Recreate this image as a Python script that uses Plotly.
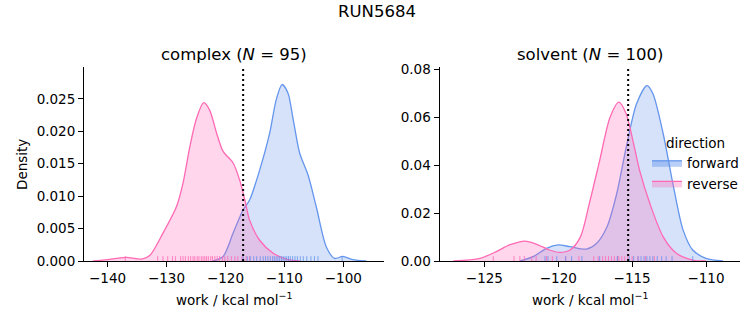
import plotly.graph_objects as go

# ---------------- data ----------------
# complex panel KDE curves
cx_rev_x = [-142.5, -140.0, -138.5, -136.8, -134.2, -132.8, -130.6, -128.3, -127.2, -126.05, -124.9,
            -123.7, -122.7, -121.5, -120.4, -118.7, -117.6, -116.7, -115.9, -114.2, -111.9, -109.7, -107.4]
cx_rev_y = [0.0, 0.0002, 0.0004, 0.00057, 0.0003, 0.0009, 0.0043, 0.0084, 0.0120, 0.0176, 0.0220,
            0.0244, 0.0233, 0.0197, 0.0169, 0.0151, 0.0125, 0.0094, 0.0063, 0.0032, 0.0012, 0.0003, 0.0]
cx_fwd_x = [-122.1, -120.4, -118.7, -117.0, -115.9, -114.2, -112.5, -111.4, -110.4, -109.4, -108.5,
            -107.4, -106.0, -104.6, -102.9, -101.5, -100.1, -98.4, -96.1]
cx_fwd_y = [0.0, 0.0007, 0.0043, 0.0079, 0.0094, 0.0140, 0.0197, 0.0248, 0.0272, 0.0259, 0.0218,
            0.0166, 0.0133, 0.0084, 0.0022, 0.0004, 0.0007, 0.0002, 0.0]

# solvent panel KDE curves
sv_rev_x = [-127.1, -125.3, -124.2, -123.3, -122.25, -121.5, -120.6, -119.9, -119.2, -118.5, -117.9,
            -117.2, -116.5, -115.9, -115.4, -114.9, -114.5, -113.8, -112.9, -112.0, -110.9, -110.0]
sv_rev_y = [0.0, 0.0011, 0.0039, 0.0067, 0.0083, 0.0071, 0.0046, 0.0036, 0.0046, 0.0101, 0.0240,
            0.0420, 0.0600, 0.0664, 0.0615, 0.0490, 0.0380, 0.0240, 0.0101, 0.0032, 0.0004, 0.0]
sv_fwd_x = [-122.6, -121.7, -120.8, -120.0, -119.2, -118.1, -117.4, -116.7, -116.05, -115.4, -114.7,
            -114.0, -113.6, -112.9, -112.2, -111.55, -110.9, -110.0, -108.85]
sv_fwd_y = [0.0, 0.0018, 0.0053, 0.0067, 0.0060, 0.0050, 0.0074, 0.0143, 0.0280, 0.0476, 0.0657,
            0.0733, 0.0700, 0.0532, 0.0310, 0.0129, 0.0046, 0.0011, 0.0]

# individual work values (rug)
cx_rev_work = [-137.0, -131.5, -130.6, -129.8, -129.0, -128.5, -127.6, -127.2, -126.8, -126.3, -125.9,
               -125.5, -125.2, -124.8, -124.5, -124.1, -123.8, -123.5, -123.2, -122.9, -122.5, -122.2,
               -121.8, -121.4, -121.0, -120.5, -120.1, -119.6, -119.0, -118.4, -117.9, -117.2, -116.5, -115.9]
cx_fwd_work = [-117.0, -116.3, -115.8, -115.2, -114.7, -114.1, -113.6, -113.2, -112.8, -112.4, -112.0,
               -111.7, -111.4, -111.1, -110.8, -110.5, -110.2, -109.9, -109.6, -109.3, -109.0, -108.6,
               -108.2, -107.8, -107.3, -106.8, -106.2, -105.5, -104.9, -104.3, -100.2]
sv_rev_work = [-124.4, -123.0, -122.6, -122.3, -121.8, -121.5, -120.8, -120.4, -119.5, -118.6, -117.6,
               -117.3, -117.0, -116.8, -116.6, -116.4, -116.2, -116.0, -115.9, -115.7, -115.5, -115.3,
               -115.0, -114.6, -114.1, -113.5]
sv_fwd_work = [-120.9, -120.7, -120.1, -119.5, -119.1, -118.4, -117.2, -116.0, -115.2, -114.9, -114.6,
               -114.4, -114.2, -114.0, -113.8, -113.6, -113.3, -113.0, -112.7, -112.3, -110.9]

# dotted reference lines (work estimate)
cx_vline = -117.0
sv_vline = -115.27

directions = ["forward", "reverse"]
panel_titles = ["complex (<i>N</i> = 95)", "solvent (<i>N</i> = 100)"]
suptitle = "RUN5684"
xlabel = "work / kcal mol<sup>−1</sup>"
ylabel = "Density"
cx_yticks = [0.0, 0.005, 0.010, 0.015, 0.020, 0.025]
sv_yticks = [0.0, 0.02, 0.04, 0.06, 0.08]
cx_xticks = [-140, -130, -120, -110, -100]
sv_xticks = [-125, -120, -115, -110]

# ---------------- style ----------------
BLUE = "#6495ED"
PINK = "#FF69B4"
BLUE_F = "rgba(100,149,237,0.27)"
PINK_F = "rgba(255,105,180,0.27)"
BLUE_L = "rgba(100,149,237,0.45)"
PINK_L = "rgba(255,105,180,0.35)"
BLUE_R = "rgba(100,149,237,0.8)"
PINK_R = "rgba(255,105,180,0.8)"
FONT = "DejaVu Sans"

W, H = 753, 325
cx_xr = [-144.0, -93.1]
cx_yr = [0, 0.0299]
sv_xr = [-128.04, -107.7]
sv_yr = [0, 0.0811]

fig = go.Figure()


def add_kde(x, y, line, fill, xa, ya):
    fig.add_trace(go.Scatter(x=x, y=y, mode="lines", line=dict(color=line, width=1.3, shape="spline", smoothing=0.8),
                             fill="tozeroy", fillcolor=fill, showlegend=False,
                             xaxis=xa, yaxis=ya, hoverinfo="skip"))


def add_rug(vals, color, h, xa, ya):
    xs, ys = [], []
    for v in vals:
        xs += [v, v, None]
        ys += [0, h, None]
    fig.add_trace(go.Scatter(x=xs, y=ys, mode="lines", line=dict(color=color, width=1),
                             showlegend=False, xaxis=xa, yaxis=ya, hoverinfo="skip"))


def add_vline(v, top, xa, ya):
    fig.add_trace(go.Scatter(x=[v, v], y=[0, top], mode="lines",
                             line=dict(color="black", width=2, dash="2px,3px"),
                             showlegend=False, xaxis=xa, yaxis=ya, hoverinfo="skip"))


# complex
add_kde(cx_fwd_x, cx_fwd_y, BLUE, BLUE_F, "x", "y")
add_kde(cx_rev_x, cx_rev_y, PINK, PINK_F, "x", "y")
add_rug(cx_rev_work, PINK_R, 0.025 * cx_yr[1], "x", "y")
add_rug(cx_fwd_work, BLUE_R, 0.025 * cx_yr[1], "x", "y")
add_vline(cx_vline, cx_yr[1], "x", "y")
# solvent
add_kde(sv_fwd_x, sv_fwd_y, BLUE, BLUE_F, "x2", "y2")
add_kde(sv_rev_x, sv_rev_y, PINK, PINK_F, "x2", "y2")
add_rug(sv_rev_work, PINK_R, 0.025 * sv_yr[1], "x2", "y2")
add_rug(sv_fwd_work, BLUE_R, 0.025 * sv_yr[1], "x2", "y2")
add_vline(sv_vline, sv_yr[1], "x2", "y2")

# legend entries (filled boxes)
for name, line, fill in [(directions[0], BLUE, BLUE_L), (directions[1], PINK, PINK_L)]:
    fig.add_trace(go.Scatter(x=[None], y=[None], mode="lines", fill="toself", fillcolor=fill,
                             line=dict(color=line, width=1.3), name=name, showlegend=True,
                             xaxis="x2", yaxis="y2"))

ax_common = dict(showgrid=False, zeroline=False, showline=True, linecolor="black", linewidth=1,
                 ticks="outside", ticklen=5, tickwidth=1, tickcolor="black", automargin=False,
                 tickfont=dict(family=FONT, size=13.5, color="black"))

ydom = [64 / H, 258 / H]
fig.update_layout(
    width=W, height=H, margin=dict(l=0, r=0, t=0, b=0, pad=0, autoexpand=False),
    paper_bgcolor="white", plot_bgcolor="white",
    font=dict(family=FONT, color="black"),
    xaxis=dict(domain=[84 / W, 384 / W], range=cx_xr, tickvals=cx_xticks, anchor="y", **ax_common),
    yaxis=dict(domain=ydom, range=cx_yr, tickvals=cx_yticks, tickformat=".3f", anchor="x", **ax_common),
    xaxis2=dict(domain=[439.5 / W, 740 / W], range=sv_xr, tickvals=sv_xticks, anchor="y2", **ax_common),
    yaxis2=dict(domain=ydom, range=sv_yr, tickvals=sv_yticks, tickformat=".2f", anchor="x2", **ax_common),
    legend=dict(x=647 / W, y=(H - 130) / H, xanchor="left", yanchor="top",
                bgcolor="rgba(0,0,0,0)", font=dict(family=FONT, size=13.5, color="black"),
                title=dict(text="direction", side="top center", font=dict(family=FONT, size=13.5)),
                tracegroupgap=0, itemwidth=30),
    showlegend=True,
)

ann = [
    dict(text=suptitle, x=0.5, y=(H - 11.5) / H, size=16.5, angle=0),
    dict(text=panel_titles[0], x=234 / W, y=(H - 54) / H, size=16.5, angle=0),
    dict(text=panel_titles[1], x=589.75 / W, y=(H - 54) / H, size=16.5, angle=0),
    dict(text=xlabel, x=234 / W, y=(H - 299) / H, size=13.5, angle=0),
    dict(text=xlabel, x=589.75 / W, y=(H - 299) / H, size=13.5, angle=0),
    dict(text=ylabel, x=22 / W, y=(H - 165) / H, size=13.5, angle=-90),
]
for a in ann:
    fig.add_annotation(text=a["text"], x=a["x"], y=a["y"], xref="paper", yref="paper",
                       xanchor="center", yanchor="middle", showarrow=False, textangle=a["angle"],
                       font=dict(family=FONT, size=a["size"], color="black"))

fig.write_html("out.html")
